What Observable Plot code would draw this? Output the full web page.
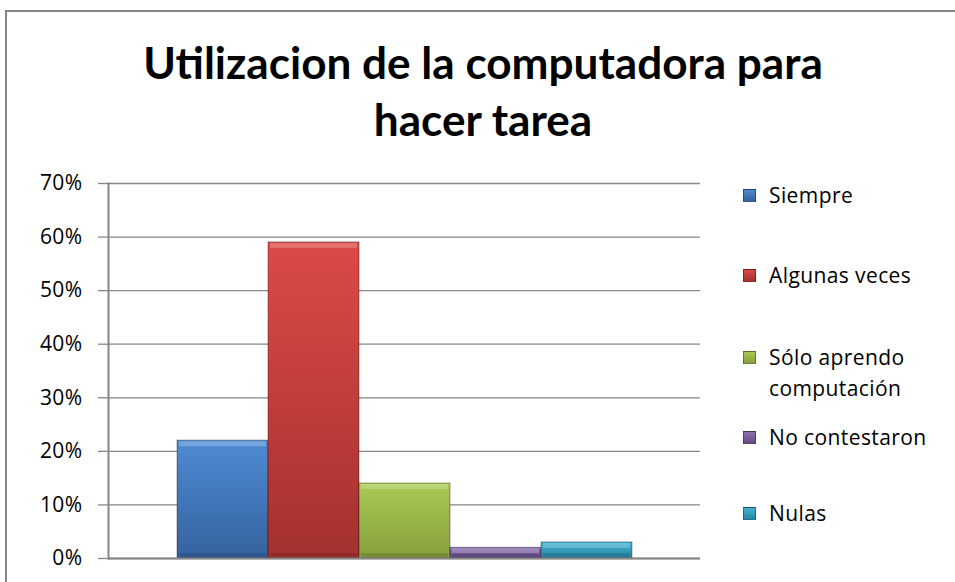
<!DOCTYPE html>
<html>
<head>
<meta charset="utf-8">
<script src="https://cdn.jsdelivr.net/npm/d3@7"></script>
<script src="https://cdn.jsdelivr.net/npm/@observablehq/plot@0.6"></script>
<style>
  html, body { margin: 0; padding: 0; background: #fff; }
  body { width: 955px; height: 582px; overflow: hidden; position: relative; font-family: "Open Sans", Lato, sans-serif; }
  #frame { position: absolute; left: 5px; top: 10px; width: 1200px; height: 800px; border-left: 2px solid #868686; border-top: 2px solid #868686; }
  #title { position: absolute; left: 0; width: 966px; top: 33px; text-align: center; font-family: Lato, sans-serif; font-weight: 700; color: #000; line-height: 57px; white-space: nowrap; }
  #chart { position: absolute; left: 0; top: 155px; }
  .leg { position: absolute; left: 743px; font-size: 21px; line-height: 31px; color: #000; letter-spacing: 0.4px; }
  .leg .sw { position: absolute; left: 0; top: 9px; width: 13px; height: 13px; box-sizing: border-box; border: 1px solid rgba(0,0,0,0.35); }
  .leg .tx { position: absolute; left: 26px; top: 0; white-space: nowrap; }
</style>
</head>
<body>
<div id="frame"></div>
<div id="title">Utilizacion de la computadora para<br>hacer tarea</div>
<div id="chart"></div>
<div id="legend"></div>
<script>
const titleLines = ["Utilizacion de la computadora para", "hacer tarea"];
const categories = ["Siempre", "Algunas veces", "Sólo aprendo computación", "No contestaron", "Nulas"];
const legendLabels = [["Siempre"], ["Algunas veces"], ["Sólo aprendo", "computación"], ["No contestaron"], ["Nulas"]];
const values = [0.22, 0.59, 0.14, 0.02, 0.03];
const yTicks = [0, 0.1, 0.2, 0.3, 0.4, 0.5, 0.6, 0.7];
const colorTop = ["#4f8bd3", "#dc4a46", "#a9cb52", "#8d70b3", "#40b4d4"];
const colorBottom = ["#35629f", "#a3312f", "#869f3e", "#634a88", "#2a86a3"];

// Title: fit line 1 to the reference width
(function () {
  const t = document.getElementById("title");
  const ctx = document.createElement("canvas").getContext("2d");
  ctx.font = "700 100px Lato";
  const w = ctx.measureText(titleLines[0]).width;
  const size = Math.min(50, 100 * 680 / w);
  t.style.fontSize = size.toFixed(1) + "px";
})();

const data = categories.map((c, i) => ({cat: c, val: values[i]}));

const chart = Plot.plot({
  width: 955,
  height: 427,
  marginTop: 28,
  marginBottom: 24,
  marginLeft: 108,
  marginRight: 255,
  style: {fontFamily: "'Open Sans', Lato, sans-serif", fontSize: "21px", background: "transparent", letterSpacing: "0.4px"},
  x: {domain: categories, padding: 0, insetLeft: 67, insetRight: 67, axis: null},
  y: {domain: [0, 0.7]},
  color: {domain: categories, range: categories.map((_, i) => `url(#grad${i})`)},
  marks: [
    Plot.gridY(yTicks, {stroke: "#868686", strokeOpacity: 1, strokeWidth: 1.3}),
    Plot.axisY(yTicks, {
      tickSize: 10, tickPadding: 16, stroke: "#868686", strokeWidth: 1.3, fill: "#000",
      tickFormat: d => Math.round(d * 100) + "%", label: null, fontSize: 21
    }),
    Plot.barY(data, {x: "cat", y: "val", fill: "cat", stroke: "rgba(0,0,0,0.35)", strokeWidth: 1}),
    Plot.barY(data, {x: "cat", y1: "val", y2: "val", insetBottom: -6, insetLeft: 2, insetRight: 2, insetTop: 1, fill: "#fff", fillOpacity: 0.22}),
    Plot.barY(data, {x: "cat", y1: 0, y2: 0, insetTop: -5, insetLeft: 2, insetRight: 2, insetBottom: 1, fill: "#000", fillOpacity: 0.12}),
    Plot.frame({anchor: "left", stroke: "#868686", strokeWidth: 2}),
    Plot.ruleY([0], {stroke: "#868686", strokeWidth: 2})
  ]
});

// gradients for the bars
const defs = d3.select(chart).insert("defs", ":first-child");
categories.forEach((c, i) => {
  const g = defs.append("linearGradient").attr("id", `grad${i}`).attr("x1", 0).attr("y1", 0).attr("x2", 0).attr("y2", 1);
  g.append("stop").attr("offset", "0%").attr("stop-color", colorTop[i]);
  g.append("stop").attr("offset", "100%").attr("stop-color", colorBottom[i]);
});
document.getElementById("chart").appendChild(chart);

// Legend
const legendTops = [180, 260, 342, 422, 498];
const legend = document.getElementById("legend");
legendLabels.forEach((lines, i) => {
  const item = document.createElement("div");
  item.className = "leg";
  item.style.top = legendTops[i] + "px";
  const sw = document.createElement("div");
  sw.className = "sw";
  sw.style.background = `linear-gradient(${colorTop[i]}, ${colorBottom[i]})`;
  const tx = document.createElement("div");
  tx.className = "tx";
  tx.innerHTML = lines.join("<br>");
  item.appendChild(sw);
  item.appendChild(tx);
  legend.appendChild(item);
});
</script>
</body>
</html>
